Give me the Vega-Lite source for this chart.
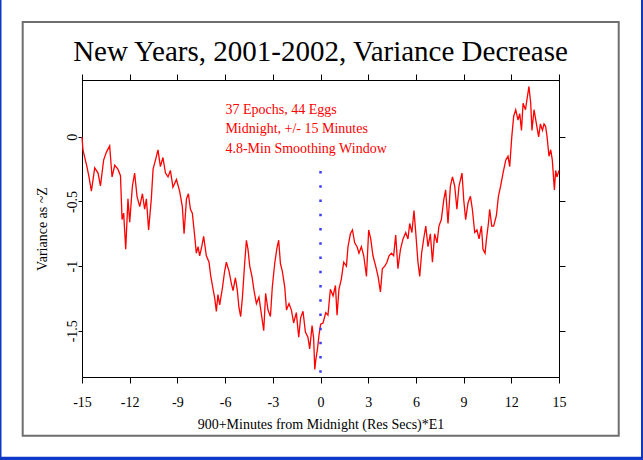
{
  "$schema": "https://vega.github.io/schema/vega-lite/v6.json",
  "width": 477,
  "height": 297,
  "autosize": {"type": "none"},
  "padding": {"left": 82, "top": 80, "right": 84, "bottom": 83},
  "background": "white",
  "title": {
    "text": "New Years, 2001-2002, Variance Decrease",
    "font": "Liberation Serif",
    "fontSize": 29,
    "fontWeight": "normal",
    "color": "black",
    "baseline": "alphabetic",
    "anchor": "middle",
    "frame": "group",
    "offset": -91
  },
  "datasets": {
    "series": [
      {"x": -15.00, "y": 0.00}, {"x": -14.94, "y": -0.10}, {"x": -14.69, "y": -0.23}, {"x": -14.56, "y": -0.31},
      {"x": -14.41, "y": -0.42}, {"x": -14.20, "y": -0.24}, {"x": -13.99, "y": -0.28}, {"x": -13.84, "y": -0.38},
      {"x": -13.64, "y": -0.18}, {"x": -13.47, "y": -0.12}, {"x": -13.26, "y": -0.07}, {"x": -13.11, "y": -0.31},
      {"x": -12.94, "y": -0.22}, {"x": -12.74, "y": -0.25}, {"x": -12.58, "y": -0.30}, {"x": -12.48, "y": -0.64},
      {"x": -12.38, "y": -0.59}, {"x": -12.25, "y": -0.87}, {"x": -12.11, "y": -0.48}, {"x": -12.00, "y": -0.66},
      {"x": -11.83, "y": -0.38}, {"x": -11.69, "y": -0.28}, {"x": -11.54, "y": -0.46}, {"x": -11.37, "y": -0.54},
      {"x": -11.20, "y": -0.44}, {"x": -11.06, "y": -0.56}, {"x": -10.95, "y": -0.48}, {"x": -10.81, "y": -0.72},
      {"x": -10.64, "y": -0.48}, {"x": -10.53, "y": -0.25}, {"x": -10.36, "y": -0.17}, {"x": -10.22, "y": -0.10},
      {"x": -10.07, "y": -0.23}, {"x": -9.91, "y": -0.16}, {"x": -9.75, "y": -0.28}, {"x": -9.59, "y": -0.31},
      {"x": -9.44, "y": -0.26}, {"x": -9.28, "y": -0.39}, {"x": -9.06, "y": -0.33}, {"x": -8.86, "y": -0.42},
      {"x": -8.69, "y": -0.54}, {"x": -8.58, "y": -0.75}, {"x": -8.43, "y": -0.48}, {"x": -8.31, "y": -0.44},
      {"x": -8.18, "y": -0.56}, {"x": -8.06, "y": -0.59}, {"x": -7.91, "y": -0.77}, {"x": -7.81, "y": -0.90},
      {"x": -7.70, "y": -0.85}, {"x": -7.60, "y": -0.92}, {"x": -7.47, "y": -0.85}, {"x": -7.35, "y": -0.77},
      {"x": -7.18, "y": -0.92}, {"x": -7.01, "y": -0.97}, {"x": -6.91, "y": -1.07}, {"x": -6.80, "y": -1.15},
      {"x": -6.65, "y": -1.25}, {"x": -6.55, "y": -1.35}, {"x": -6.45, "y": -1.22}, {"x": -6.34, "y": -1.30},
      {"x": -6.17, "y": -1.17}, {"x": -6.03, "y": -1.04}, {"x": -5.92, "y": -0.97}, {"x": -5.75, "y": -1.04},
      {"x": -5.60, "y": -1.14}, {"x": -5.50, "y": -1.19}, {"x": -5.35, "y": -1.09}, {"x": -5.23, "y": -1.19},
      {"x": -5.13, "y": -1.32}, {"x": -5.02, "y": -1.39}, {"x": -4.91, "y": -1.24}, {"x": -4.77, "y": -0.98},
      {"x": -4.66, "y": -0.80}, {"x": -4.56, "y": -0.87}, {"x": -4.45, "y": -1.00}, {"x": -4.31, "y": -1.08},
      {"x": -4.18, "y": -1.19}, {"x": -4.03, "y": -1.29}, {"x": -3.87, "y": -1.24}, {"x": -3.72, "y": -1.37},
      {"x": -3.57, "y": -1.50}, {"x": -3.45, "y": -1.21}, {"x": -3.30, "y": -1.34}, {"x": -3.15, "y": -1.39},
      {"x": -3.03, "y": -1.16}, {"x": -2.88, "y": -0.98}, {"x": -2.74, "y": -0.86}, {"x": -2.63, "y": -0.80},
      {"x": -2.52, "y": -0.98}, {"x": -2.40, "y": -1.04}, {"x": -2.25, "y": -1.16}, {"x": -2.14, "y": -1.34},
      {"x": -1.98, "y": -1.29}, {"x": -1.83, "y": -1.34}, {"x": -1.69, "y": -1.44}, {"x": -1.52, "y": -1.36},
      {"x": -1.37, "y": -1.55}, {"x": -1.25, "y": -1.40}, {"x": -1.10, "y": -1.35}, {"x": -0.95, "y": -1.51},
      {"x": -0.79, "y": -1.55}, {"x": -0.68, "y": -1.64}, {"x": -0.53, "y": -1.46}, {"x": -0.43, "y": -1.56},
      {"x": -0.36, "y": -1.80}, {"x": -0.30, "y": -1.73}, {"x": -0.19, "y": -1.64}, {"x": -0.09, "y": -1.53},
      {"x": 0.01, "y": -1.45}, {"x": 0.16, "y": -1.44}, {"x": 0.33, "y": -1.36}, {"x": 0.47, "y": -1.38},
      {"x": 0.62, "y": -1.18}, {"x": 0.79, "y": -1.23}, {"x": 0.94, "y": -1.15}, {"x": 1.04, "y": -1.38},
      {"x": 1.16, "y": -1.18}, {"x": 1.31, "y": -1.10}, {"x": 1.46, "y": -0.97}, {"x": 1.63, "y": -1.00},
      {"x": 1.73, "y": -0.85}, {"x": 1.88, "y": -0.75}, {"x": 2.01, "y": -0.72}, {"x": 2.15, "y": -0.82},
      {"x": 2.30, "y": -0.85}, {"x": 2.42, "y": -0.90}, {"x": 2.57, "y": -0.85}, {"x": 2.72, "y": -0.92},
      {"x": 2.89, "y": -1.08}, {"x": 3.03, "y": -0.72}, {"x": 3.16, "y": -0.79}, {"x": 3.30, "y": -0.92},
      {"x": 3.47, "y": -1.00}, {"x": 3.62, "y": -1.08}, {"x": 3.77, "y": -1.20}, {"x": 3.89, "y": -1.02},
      {"x": 4.04, "y": -1.00}, {"x": 4.18, "y": -0.97}, {"x": 4.31, "y": -0.92}, {"x": 4.46, "y": -0.90},
      {"x": 4.60, "y": -0.92}, {"x": 4.73, "y": -0.76}, {"x": 4.87, "y": -1.02}, {"x": 5.03, "y": -0.87},
      {"x": 5.19, "y": -0.79}, {"x": 5.36, "y": -0.74}, {"x": 5.50, "y": -0.79}, {"x": 5.61, "y": -0.67},
      {"x": 5.75, "y": -0.74}, {"x": 5.88, "y": -0.57}, {"x": 5.99, "y": -0.74}, {"x": 6.13, "y": -0.97},
      {"x": 6.24, "y": -1.08}, {"x": 6.36, "y": -0.90}, {"x": 6.49, "y": -0.79}, {"x": 6.62, "y": -0.69},
      {"x": 6.76, "y": -0.85}, {"x": 6.91, "y": -0.75}, {"x": 7.04, "y": -0.97}, {"x": 7.18, "y": -0.75},
      {"x": 7.33, "y": -0.82}, {"x": 7.45, "y": -0.69}, {"x": 7.60, "y": -0.64}, {"x": 7.75, "y": -0.49},
      {"x": 7.87, "y": -0.41}, {"x": 8.02, "y": -0.67}, {"x": 8.17, "y": -0.38}, {"x": 8.30, "y": -0.31},
      {"x": 8.44, "y": -0.38}, {"x": 8.58, "y": -0.56}, {"x": 8.71, "y": -0.38}, {"x": 8.90, "y": -0.28},
      {"x": 9.01, "y": -0.49}, {"x": 9.13, "y": -0.64}, {"x": 9.28, "y": -0.51}, {"x": 9.43, "y": -0.46},
      {"x": 9.55, "y": -0.56}, {"x": 9.70, "y": -0.74}, {"x": 9.84, "y": -0.72}, {"x": 9.97, "y": -0.79},
      {"x": 10.12, "y": -0.69}, {"x": 10.22, "y": -0.87}, {"x": 10.35, "y": -0.90}, {"x": 10.43, "y": -0.80},
      {"x": 10.56, "y": -0.67}, {"x": 10.64, "y": -0.56}, {"x": 10.77, "y": -0.69}, {"x": 10.89, "y": -0.69},
      {"x": 11.06, "y": -0.61}, {"x": 11.19, "y": -0.46}, {"x": 11.33, "y": -0.38}, {"x": 11.48, "y": -0.28},
      {"x": 11.65, "y": -0.18}, {"x": 11.79, "y": -0.15}, {"x": 11.90, "y": -0.23}, {"x": 12.03, "y": 0.00},
      {"x": 12.15, "y": 0.16}, {"x": 12.28, "y": 0.21}, {"x": 12.42, "y": 0.13}, {"x": 12.53, "y": 0.18},
      {"x": 12.64, "y": 0.05}, {"x": 12.74, "y": 0.26}, {"x": 12.89, "y": 0.21}, {"x": 13.01, "y": 0.31},
      {"x": 13.11, "y": 0.39}, {"x": 13.22, "y": 0.26}, {"x": 13.30, "y": 0.05}, {"x": 13.43, "y": 0.21},
      {"x": 13.58, "y": 0.10}, {"x": 13.72, "y": 0.00}, {"x": 13.83, "y": 0.10}, {"x": 13.96, "y": 0.05},
      {"x": 14.06, "y": 0.10}, {"x": 14.16, "y": 0.08}, {"x": 14.25, "y": 0.00}, {"x": 14.37, "y": -0.15},
      {"x": 14.48, "y": -0.10}, {"x": 14.58, "y": -0.18}, {"x": 14.71, "y": -0.41}, {"x": 14.79, "y": -0.26},
      {"x": 14.87, "y": -0.31}, {"x": 15.00, "y": -0.26}
    ],
    "marker": [{"x": 0, "y": -0.264, "y2": -1.851}],
    "notes": [{"label": ["37 Epochs, 44 Eggs", "Midnight, +/- 15 Minutes", "4.8-Min Smoothing Window"]}],
    "one": [{}]
  },
  "layer": [
    {
      "data": {"name": "one"},
      "mark": {"type": "rect", "fill": null, "stroke": "#6e6e6e", "strokeWidth": 2, "clip": false},
      "encoding": {
        "x": {"datum": -18.73, "type": "quantitative", "scale": {"domain": [-15, 15], "nice": false, "zero": false}, "axis": null},
        "x2": {"datum": 18.755},
        "y": {"datum": 0.889, "type": "quantitative", "scale": {"domain": [-1.858, 0.44], "nice": false, "zero": false}, "axis": null},
        "y2": {"datum": -2.312}
      }
    },
    {
      "data": {"name": "one"},
      "mark": {"type": "rule", "color": "#1038c8", "strokeWidth": 1.5, "clip": false},
      "encoding": {
        "x": {"datum": -20.11, "type": "quantitative", "axis": null},
        "y": {"datum": 1.059, "type": "quantitative", "axis": null},
        "y2": {"datum": -2.5}
      }
    },
    {
      "data": {"name": "one"},
      "mark": {"type": "rule", "color": "#1038c8", "strokeWidth": 2, "clip": false},
      "encoding": {
        "x": {"datum": 20.22, "type": "quantitative", "axis": null},
        "y": {"datum": 1.059, "type": "quantitative", "axis": null},
        "y2": {"datum": -2.5}
      }
    },
    {
      "data": {"name": "one"},
      "mark": {"type": "rule", "color": "#1038c8", "strokeWidth": 3.5, "clip": false},
      "encoding": {
        "x": {"datum": -20.157, "type": "quantitative", "axis": null},
        "x2": {"datum": 20.283},
        "y": {"datum": -2.489, "type": "quantitative", "axis": null}
      }
    },
    {
      "data": {"name": "series"},
      "mark": {"type": "line", "color": "#ff0000", "strokeWidth": 1.3, "interpolate": "linear"},
      "encoding": {
        "x": {
          "field": "x", "type": "quantitative",
          "scale": {"domain": [-15, 15], "nice": false, "zero": false},
          "axis": {
            "orient": "bottom",
            "values": [-15, -12, -9, -6, -3, 0, 3, 6, 9, 12, 15],
            "labelExpr": "'' + datum.value",
            "title": "900+Minutes from Midnight (Res Secs)*E1",
            "tickSize": 6,
            "labelPadding": 12,
            "titlePadding": 8,
            "labelFlush": false
          }
        },
        "y": {
          "field": "y", "type": "quantitative",
          "scale": {"domain": [-1.858, 0.44], "nice": false, "zero": false},
          "axis": {
            "orient": "left",
            "values": [-1.5, -1, -0.5, 0],
            "labelExpr": "'' + datum.value",
            "title": "Variance as ~Z",
            "tickSize": 4,
            "labelAngle": 270,
            "labelAlign": "center",
            "labelBaseline": "alphabetic",
            "labelPadding": 2,
            "titlePadding": 16,
            "labelFlush": false
          }
        }
      }
    },
    {
      "data": {"name": "marker"},
      "mark": {"type": "rule", "color": "#3c3cff", "strokeWidth": 2.5, "strokeDash": [2.5, 11.74], "strokeCap": "butt"},
      "encoding": {
        "x": {
          "field": "x", "type": "quantitative",
          "axis": {"orient": "top", "values": [-15, -12, -9, -6, -3, 0, 3, 6, 9, 12, 15], "labels": false, "title": null, "tickSize": 6}
        },
        "y": {
          "field": "y", "type": "quantitative",
          "axis": {"orient": "right", "values": [-1.5, -1, -0.5, 0], "labels": false, "title": null, "tickSize": 6}
        },
        "y2": {"field": "y2"}
      }
    },
    {
      "data": {"name": "notes"},
      "mark": {"type": "text", "align": "left", "baseline": "middle", "font": "Liberation Serif", "fontSize": 14, "color": "#ff0000", "lineHeight": 19.5},
      "encoding": {
        "x": {"datum": -5.98, "type": "quantitative", "axis": null},
        "y": {"datum": 0.208, "type": "quantitative", "axis": null},
        "text": {"field": "label"}
      }
    }
  ],
  "config": {
    "view": {"stroke": "black", "strokeWidth": 1},
    "axis": {
      "grid": false,
      "domainColor": "black",
      "tickColor": "black",
      "labelColor": "black",
      "titleColor": "black",
      "labelFont": "Liberation Serif",
      "titleFont": "Liberation Serif",
      "labelFontSize": 14,
      "titleFontSize": 14,
      "titleFontWeight": "normal",
      "domainWidth": 1,
      "tickWidth": 1
    }
  }
}
